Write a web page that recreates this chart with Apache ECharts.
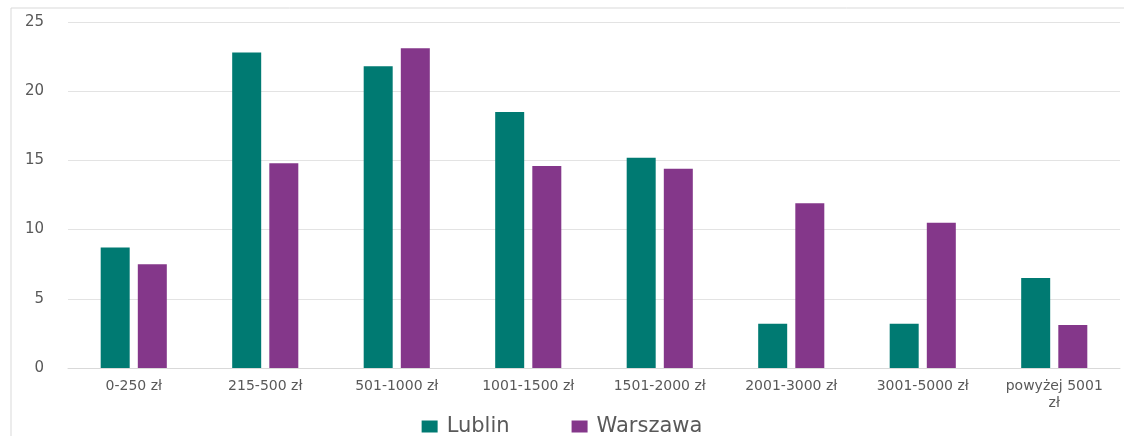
<!DOCTYPE html>
<html>
<head>
<meta charset="utf-8">
<script src="https://cdn.jsdelivr.net/npm/echarts@6/dist/echarts.min.js"></script>
<style>
html,body{margin:0;padding:0;background:#fff;}
#chart{width:1124px;height:436px;}
</style>
</head>
<body>
<div id="chart"></div>
<script>
const categories = ['0-250 zł','215-500 zł','501-1000 zł','1001-1500 zł','1501-2000 zł','2001-3000 zł','3001-5000 zł','powyżej 5001 zł'];
const lublin = [8.7, 22.8, 21.8, 18.5, 15.2, 3.2, 3.2, 6.5];
const warszawa = [7.5, 14.8, 23.1, 14.6, 14.4, 11.9, 10.5, 3.1];
const yTicks = [0, 5, 10, 15, 20, 25];

const chart = echarts.init(document.getElementById('chart'));
const font = 'DejaVu Sans';
chart.setOption({
  animation: false,
  graphic: [{
    type: 'rect',
    shape: {x: 11, y: 8, width: 1130, height: 440},
    style: {fill: 'none', stroke: '#d9d9d9', lineWidth: 1},
    silent: true
  }],
  grid: {left: 68, right: 4, top: 22, bottom: 68, containLabel: false},
  legend: {
    data: ['Lublin', 'Warszawa'],
    bottom: -6,
    left: 'center',
    itemWidth: 16,
    itemHeight: 12,
    itemGap: 62,
    icon: 'rect',
    textStyle: {fontFamily: font, fontSize: 21, color: '#595959', padding: [0, 0, 0, 4]}
  },
  xAxis: {
    type: 'category',
    data: categories,
    axisLine: {lineStyle: {color: '#d9d9d9'}},
    axisTick: {show: false},
    axisLabel: {
      interval: 0,
      margin: 10,
      fontFamily: font,
      fontSize: 14,
      color: '#595959',
      lineHeight: 17,
      formatter: v => v.replace('powyżej 5001 ', 'powyżej 5001\n')
    }
  },
  yAxis: {
    type: 'value',
    min: yTicks[0],
    max: yTicks[yTicks.length - 1],
    interval: 5,
    axisLine: {show: false},
    axisTick: {show: false},
    splitLine: {lineStyle: {color: '#e3e3e3', width: 1}},
    axisLabel: {fontFamily: font, fontSize: 15, color: '#595959', margin: 24}
  },
  series: [
    {name: 'Lublin', type: 'bar', data: lublin, barWidth: 29, barGap: '28%',
     itemStyle: {color: '#007A72'}},
    {name: 'Warszawa', type: 'bar', data: warszawa, barWidth: 29,
     itemStyle: {color: '#84378A'}}
  ]
});
</script>
</body>
</html>
